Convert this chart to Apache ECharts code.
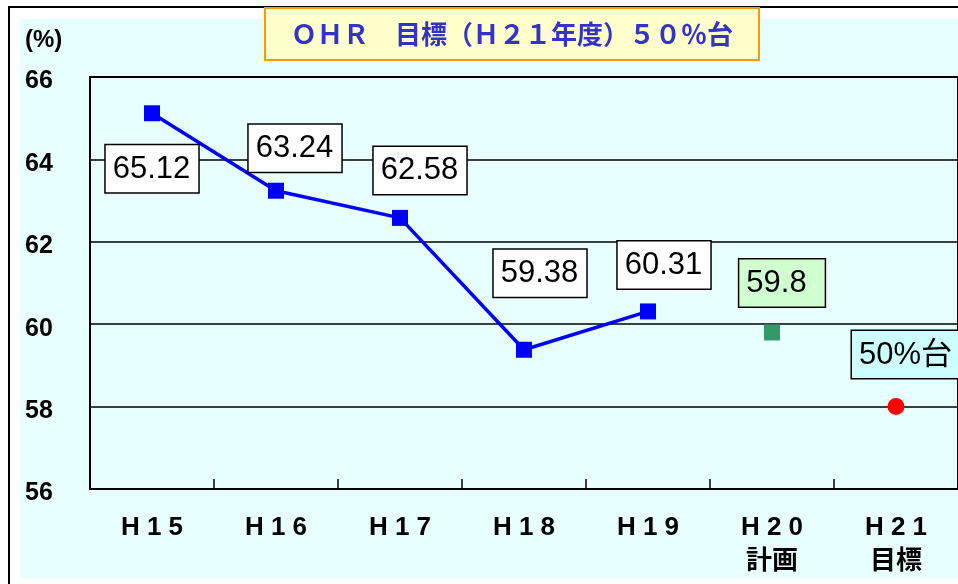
<!DOCTYPE html>
<html>
<head>
<meta charset="utf-8">
<script src="https://cdn.jsdelivr.net/npm/echarts@6/dist/echarts.min.js"></script>
<style>
  html, body { margin: 0; padding: 0; background: #fff; }
  #main { width: 958px; height: 584px; }
</style>
</head>
<body>
<div id="main"></div>
<script>
// data
const categories = ['H 1 5', 'H 1 6', 'H 1 7', 'H 1 8', 'H 1 9', 'H 2 0\n計画', 'H 2 1\n目標']
const actual = [65.12, 63.24, 62.58, 59.38, 60.31, null, null]
const plan = [null, null, null, null, null, 59.8, null]
const target = [null, null, null, null, null, null, 58]
const targetText = '50%台'
const yTicks = {min: 56, max: 66, step: 2}

// label box placement per category: [position, distance, dx]
const labelPlace = [
  ['bottom', 24, 0],
  ['top', 11, 19],
  ['top', 16, 20],
  ['top', 45, 16],
  ['top', 15, 16],
  ['top', 18, 10],
  ['top', 20, 10]
]

const boxLabel = (i, bg, extra) => Object.assign({
  show: true,
  position: labelPlace[i][0],
  distance: labelPlace[i][1],
  offset: [labelPlace[i][2], 0],
  fontFamily: "'Liberation Sans', 'Noto Sans CJK JP', sans-serif",
  fontSize: 31,
  lineHeight: 32,
  color: '#000',
  backgroundColor: bg,
  borderColor: '#000',
  borderWidth: 1.5,
  padding: [8, 8, 7, 7]
}, extra || {})

const chart = echarts.init(document.getElementById('main'))

const option = {
  backgroundColor: '#fff',
  animation: false,
  graphic: [
    {type: 'rect', z: -10, shape: {x: 20, y: 19, width: 940, height: 559}, style: {fill: '#E8FFFF'}},
    {type: 'line', shape: {x1: 8, y1: 7, x2: 958, y2: 7}, style: {stroke: '#000', lineWidth: 2}},
    {type: 'line', shape: {x1: 9, y1: 7, x2: 9, y2: 584}, style: {stroke: '#000', lineWidth: 2}},
    {
      type: 'text', left: 25, top: 28,
      style: {text: '(%)', font: "bold 24px 'Liberation Sans', sans-serif", fill: '#000'}
    }
  ],
  title: {
    text: 'ＯＨＲ　目標（Ｈ２１年度）５０％台',
    left: 265,
    top: 8,
    backgroundColor: '#FFFFCC',
    borderColor: '#FF9900',
    borderWidth: 2,
    padding: [13, 26, 13, 26],
    textStyle: {
      fontFamily: "'Noto Sans CJK JP', sans-serif",
      fontSize: 26,
      fontWeight: 'bold',
      color: '#3333CC'
    }
  },
  grid: {
    left: 90,
    top: 77,
    right: 0,
    bottom: 95,
    show: true,
    backgroundColor: '#E8FFFF',
    borderColor: '#000',
    borderWidth: 2
  },
  xAxis: {
    type: 'category',
    data: categories,
    boundaryGap: true,
    axisLine: {lineStyle: {color: '#000', width: 2}},
    axisTick: {show: true, inside: true, length: 10, lineStyle: {color: '#000', width: 1.5}},
    axisLabel: {
      margin: 22,
      color: '#000',
      fontFamily: "'Liberation Sans', 'Noto Sans CJK JP', sans-serif",
      fontWeight: 'bold',
      fontSize: 26,
      lineHeight: 34
    }
  },
  yAxis: {
    type: 'value',
    min: yTicks.min,
    max: yTicks.max,
    interval: yTicks.step,
    axisLine: {show: true, lineStyle: {color: '#000', width: 2}},
    axisTick: {show: false},
    splitLine: {lineStyle: {color: '#000', width: 1.5}},
    axisLabel: {
      align: 'left',
      margin: 65,
      formatter: '{v|{value}}',
      rich: {
        v: {
          padding: [9, 0, 0, 0],
          color: '#000',
          fontFamily: "'Liberation Sans', sans-serif",
          fontWeight: 'bold',
          fontSize: 25
        }
      }
    }
  },
  series: [
    {
      name: 'actual',
      type: 'line',
      symbol: 'rect',
      symbolSize: 16,
      lineStyle: {color: '#0000FF', width: 3.5},
      itemStyle: {color: '#0000FF'},
      data: actual.map((v, i) => ({value: v, label: boxLabel(i, '#FFFFFF')}))
    },
    {
      name: 'plan',
      type: 'line',
      symbol: 'rect',
      symbolSize: 16,
      lineStyle: {width: 0},
      itemStyle: {color: '#339966'},
      data: plan.map((v, i) => ({value: v, label: boxLabel(i, '#D0FFD0', {padding: [8, 18, 7, 7]})}))
    },
    {
      name: 'target',
      type: 'line',
      symbol: 'circle',
      symbolSize: 17,
      lineStyle: {width: 0},
      itemStyle: {color: '#FF0000'},
      data: target.map((v, i) => ({
        value: v,
        label: boxLabel(i, '#CCFFFF', {formatter: targetText, padding: [8, 8, 7, 7]})
      }))
    }
  ]
}
chart.setOption(option)
</script>
</body>
</html>
